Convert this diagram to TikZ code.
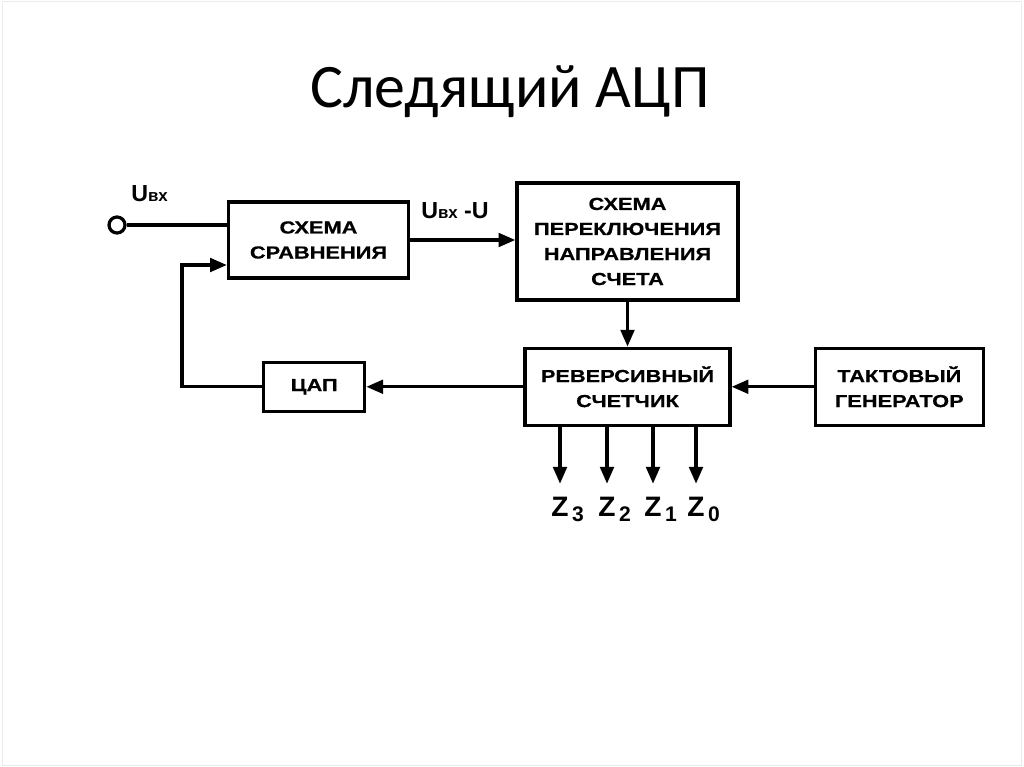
\documentclass[tikz,border=0pt]{standalone}
\usepackage{fontspec}
\setmainfont{Liberation Sans}
\newfontfamily\titlefont{Carlito}
\newfontfamily\blockfont[FakeStretch=1.25, BoldFeatures={FakeBold=0.6}]{Liberation Sans}
\usetikzlibrary{arrows.meta, positioning}

\begin{document}
\begin{tikzpicture}[x=0.025cm, y=-0.025cm,
						font=\blockfont\bfseries\fontsize{12.4}{17.8}\selectfont,
						block/.style = {rectangle, draw, line width=2.3pt, text centered,
										align=center, inner sep=0pt},
						line/.style = {-{Triangle[length=4.2mm, width=3.4mm]}, line width=2.3pt},
						zlabel/.style = {inner sep=0pt, anchor=base,
										font=\bfseries\fontsize{20}{20}\selectfont},
						ulabel/.style = {inner sep=0pt, anchor=base west,
										font=\bfseries\fontsize{16.5}{16.5}\selectfont}
						]
						\useasboundingbox (0,0) rectangle (1024,767);
						\draw[gray!15, line width=0.6pt] (2,1) rectangle (1021,765);

						% --- Titulo ---
						\node[font=\titlefont\fontsize{44}{48}\selectfont, anchor=base] (title) at (510,108) {Следящий АЦП};

						% --- Bloques ---
						\node[block, minimum width=4.5cm, minimum height=1.9cm] (cmp) at (318.5,240) {СХЕМА\\СРАВНЕНИЯ};
						\node[block, minimum width=5.525cm, minimum height=2.925cm] (switch) at (627.5,241.5) {СХЕМА\\ПЕРЕКЛЮЧЕНИЯ\\НАПРАВЛЕНИЯ\\СЧЕТА};
						\node[block, below=1.125cm of switch, minimum width=5.125cm, minimum height=1.925cm] (counter) {РЕВЕРСИВНЫЙ\\СЧЕТЧИК};
						\node[block, right=2.05cm of counter, minimum width=4.2cm, minimum height=1.925cm] (gen) {ТАКТОВЫЙ\\ГЕНЕРАТОР};
						\node[block, left=3.925cm of counter, minimum width=2.525cm, minimum height=1.225cm] (dac) {ЦАП};

						% --- Entrada y etiquetas ---
						\node[circle, draw, line width=2.3pt, minimum size=0.4cm, inner sep=0pt] (in) at (117,225) {};
						\node[ulabel] (uin) at (131,202) {U{\fontsize{12}{12}\selectfont вх}};
						\node[ulabel] (udiff) at (421,219) {U{\fontsize{12}{12}\selectfont вх} -U};

						% --- Salidas ---
						\foreach \i/\xx in {3/560, 2/607, 1/653, 0/696}
							\node[zlabel] (z\i) at (\xx,516) {Z\rlap{\kern2.5pt\raisebox{-4pt}{\fontsize{15}{15}\selectfont \i}}};

						% --- Conexiones ---
						\draw[line width=2.3pt] (in) -- (cmp.west |- in);
						\draw[line] (cmp.east) -- (switch.west |- cmp.east);
						\draw[line] (switch) -- (counter);
						\draw[line] (gen) -- (counter);
						\draw[line] (counter) -- (dac);
						\draw[line] (dac.west) -- ++(-80,0) |- ([yshift=-0.625cm]cmp.west);
						\foreach \i in {3,2,1,0}
							\draw[line, shorten >=9pt] (counter.south -| z\i) -- (z\i.north);

\end{tikzpicture}
\end{document}
